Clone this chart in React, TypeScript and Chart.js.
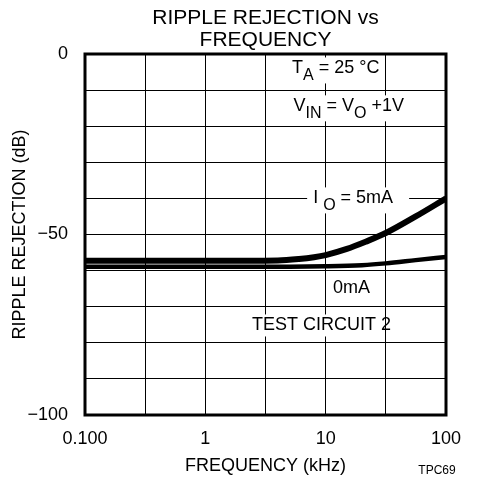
import React, { useEffect, useRef } from 'react';
import { Chart, registerables } from 'chart.js';

Chart.register(...registerables);

// Ripple rejection (dB) vs frequency (kHz)
const freq5mA = [0.1, 1, 4, 6, 8, 10, 15, 21.5, 31.6, 56, 100];
const rejection5mA = [-57.3, -57.3, -57.2, -56.8, -56.3, -55.7, -54.0, -52.0, -49.6, -45.0, -40.0];
const freq0mA = [0.1, 1, 5, 10, 20, 31.6, 56, 100];
const rejection0mA = [-58.9, -58.9, -58.9, -58.8, -58.5, -58.0, -57.1, -56.2];

const xGridValues = [0.1, 0.316, 1, 3.16, 10, 31.6, 100];
const xLabelValues = [0.1, 1, 10, 100];
const xTickLabels = ['0.100', '1', '10', '100'];
const yLabelValues = [0, -50, -100];
const yTickLabels = ['0', '\u221250', '\u2212100'];

const FONT = '"Liberation Sans", Arial, Helvetica, sans-serif';

type Part = [string, boolean];
type Note = { f: number; db: number; parts: Part[]; boxLeft?: number; boxRight?: number };

const notes: Note[] = [
  { f: 5.26, db: -4.0, parts: [['T', false], ['A', true], [' = 25 \u00b0C', false]] },
  { f: 5.4, db: -14.5, parts: [['V', false], ['IN', true], [' = V', false], ['O', true], [' +1V', false]] },
  { f: 7.87, db: -40.0, parts: [['I ', false], ['O', true], [' = 5mA', false]], boxLeft: 6, boxRight: 16 },
  { f: 11.5, db: -64.7, parts: [['0mA', false]] },
  { f: 2.44, db: -75.2, parts: [['TEST CIRCUIT 2', false]], boxRight: -8 },
];

const annotationPlugin = {
  id: 'annotations',
  beforeDatasetsDraw(chart: any) {
    const { ctx, chartArea, scales } = chart;
    const main = `18px ${FONT}`;
    const sub = `16px ${FONT}`;
    ctx.save();
    for (const n of notes) {
      const x0 = scales.x.getPixelForValue(n.f);
      const y0 = scales.y.getPixelForValue(n.db);
      let w = 0;
      let hasSub = false;
      for (const [t, s] of n.parts) {
        ctx.font = s ? sub : main;
        w += ctx.measureText(t).width;
        if (s) hasSub = true;
      }
      const bl = n.boxLeft ?? 2;
      const br = n.boxRight ?? 2;
      ctx.fillStyle = '#fff';
      ctx.fillRect(x0 - bl, y0 - 11, w + bl + br, hasSub ? 26 : 22);
      ctx.fillStyle = '#000';
      ctx.textBaseline = 'middle';
      ctx.textAlign = 'left';
      let x = x0;
      for (const [t, s] of n.parts) {
        ctx.font = s ? sub : main;
        ctx.fillText(t, x, y0 + (s ? 7 : 0));
        x += ctx.measureText(t).width;
      }
    }
    // plot frame
    ctx.strokeStyle = '#000';
    ctx.lineWidth = 3;
    ctx.strokeRect(chartArea.left, chartArea.top, chartArea.right - chartArea.left, chartArea.bottom - chartArea.top);
    ctx.restore();
  },
  afterDraw(chart: any) {
    const { ctx } = chart;
    ctx.save();
    ctx.fillStyle = '#000';
    ctx.font = `12px ${FONT}`;
    ctx.textAlign = 'center';
    ctx.textBaseline = 'middle';
    ctx.fillText('TPC69', 437, 471);
    ctx.restore();
  },
};

export default function App() {
  const ref = useRef<HTMLCanvasElement | null>(null);
  useEffect(() => {
    if (!ref.current) return;
    const chart = new Chart(ref.current, {
      type: 'line',
      data: {
        datasets: [
          {
            label: 'IO = 5mA',
            data: freq5mA.map((f, i) => ({ x: f, y: rejection5mA[i] })),
            borderColor: '#000',
            borderWidth: 6,
            pointRadius: 0,
            cubicInterpolationMode: 'monotone',
            fill: false,
          },
          {
            label: '0mA',
            data: freq0mA.map((f, i) => ({ x: f, y: rejection0mA[i] })),
            borderColor: '#000',
            borderWidth: 4.5,
            pointRadius: 0,
            cubicInterpolationMode: 'monotone',
            fill: false,
          },
        ],
      },
      options: {
        animation: false,
        responsive: false,
        devicePixelRatio: 1,
        layout: { padding: { left: 0, right: 36, top: 0, bottom: 0 } },
        plugins: {
          legend: { display: false },
          tooltip: { enabled: false },
          title: {
            display: true,
            fullSize: false,
            text: ['RIPPLE REJECTION vs', 'FREQUENCY'],
            color: '#000',
            font: { family: FONT, size: 21, weight: 'normal', lineHeight: '22px' },
            padding: { top: 7, bottom: 3 },
          },
        },
        scales: {
          x: {
            type: 'logarithmic',
            min: 0.1,
            max: 100,
            afterBuildTicks: (scale: any) => {
              scale.ticks = xGridValues.map((v) => ({ value: v }));
            },
            afterFit: (scale: any) => {
              scale.height = 63;
            },
            grid: { color: '#000', lineWidth: 1, drawTicks: false },
            border: { display: false },
            ticks: {
              autoSkip: false,
              maxRotation: 0,
              padding: 13,
              color: '#000',
              font: { family: FONT, size: 18 },
              callback: (value: any) => {
                const i = xLabelValues.findIndex((v) => Math.abs(v - Number(value)) < 1e-9);
                return i >= 0 ? xTickLabels[i] : '';
              },
            },
            title: {
              display: true,
              text: 'FREQUENCY (kHz)',
              color: '#000',
              font: { family: FONT, size: 18 },
              padding: { top: 0, bottom: 1 },
            },
          },
          y: {
            type: 'linear',
            min: -100,
            max: 0,
            afterFit: (scale: any) => {
              scale.width = 85;
            },
            grid: { color: '#000', lineWidth: 1, drawTicks: false },
            border: { display: false },
            ticks: {
              stepSize: 10,
              autoSkip: false,
              padding: 17,
              color: '#000',
              font: { family: FONT, size: 18 },
              callback: (value: any) => {
                const i = yLabelValues.findIndex((v) => Math.abs(v - Number(value)) < 1e-9);
                return i >= 0 ? yTickLabels[i] : '';
              },
            },
            title: {
              display: true,
              text: 'RIPPLE REJECTION (dB)',
              color: '#000',
              font: { family: FONT, size: 18 },
              padding: { top: 9, bottom: 0 },
            },
          },
        },
      } as any,
      plugins: [annotationPlugin],
    });
    return () => chart.destroy();
  }, []);
  return (
    <div style={{ position: 'absolute', left: 0, top: 0, width: 482, height: 478, background: '#fff' }}>
      <canvas ref={ref} width={482} height={478} style={{ width: 482, height: 478, display: 'block' }} />
    </div>
  );
}
